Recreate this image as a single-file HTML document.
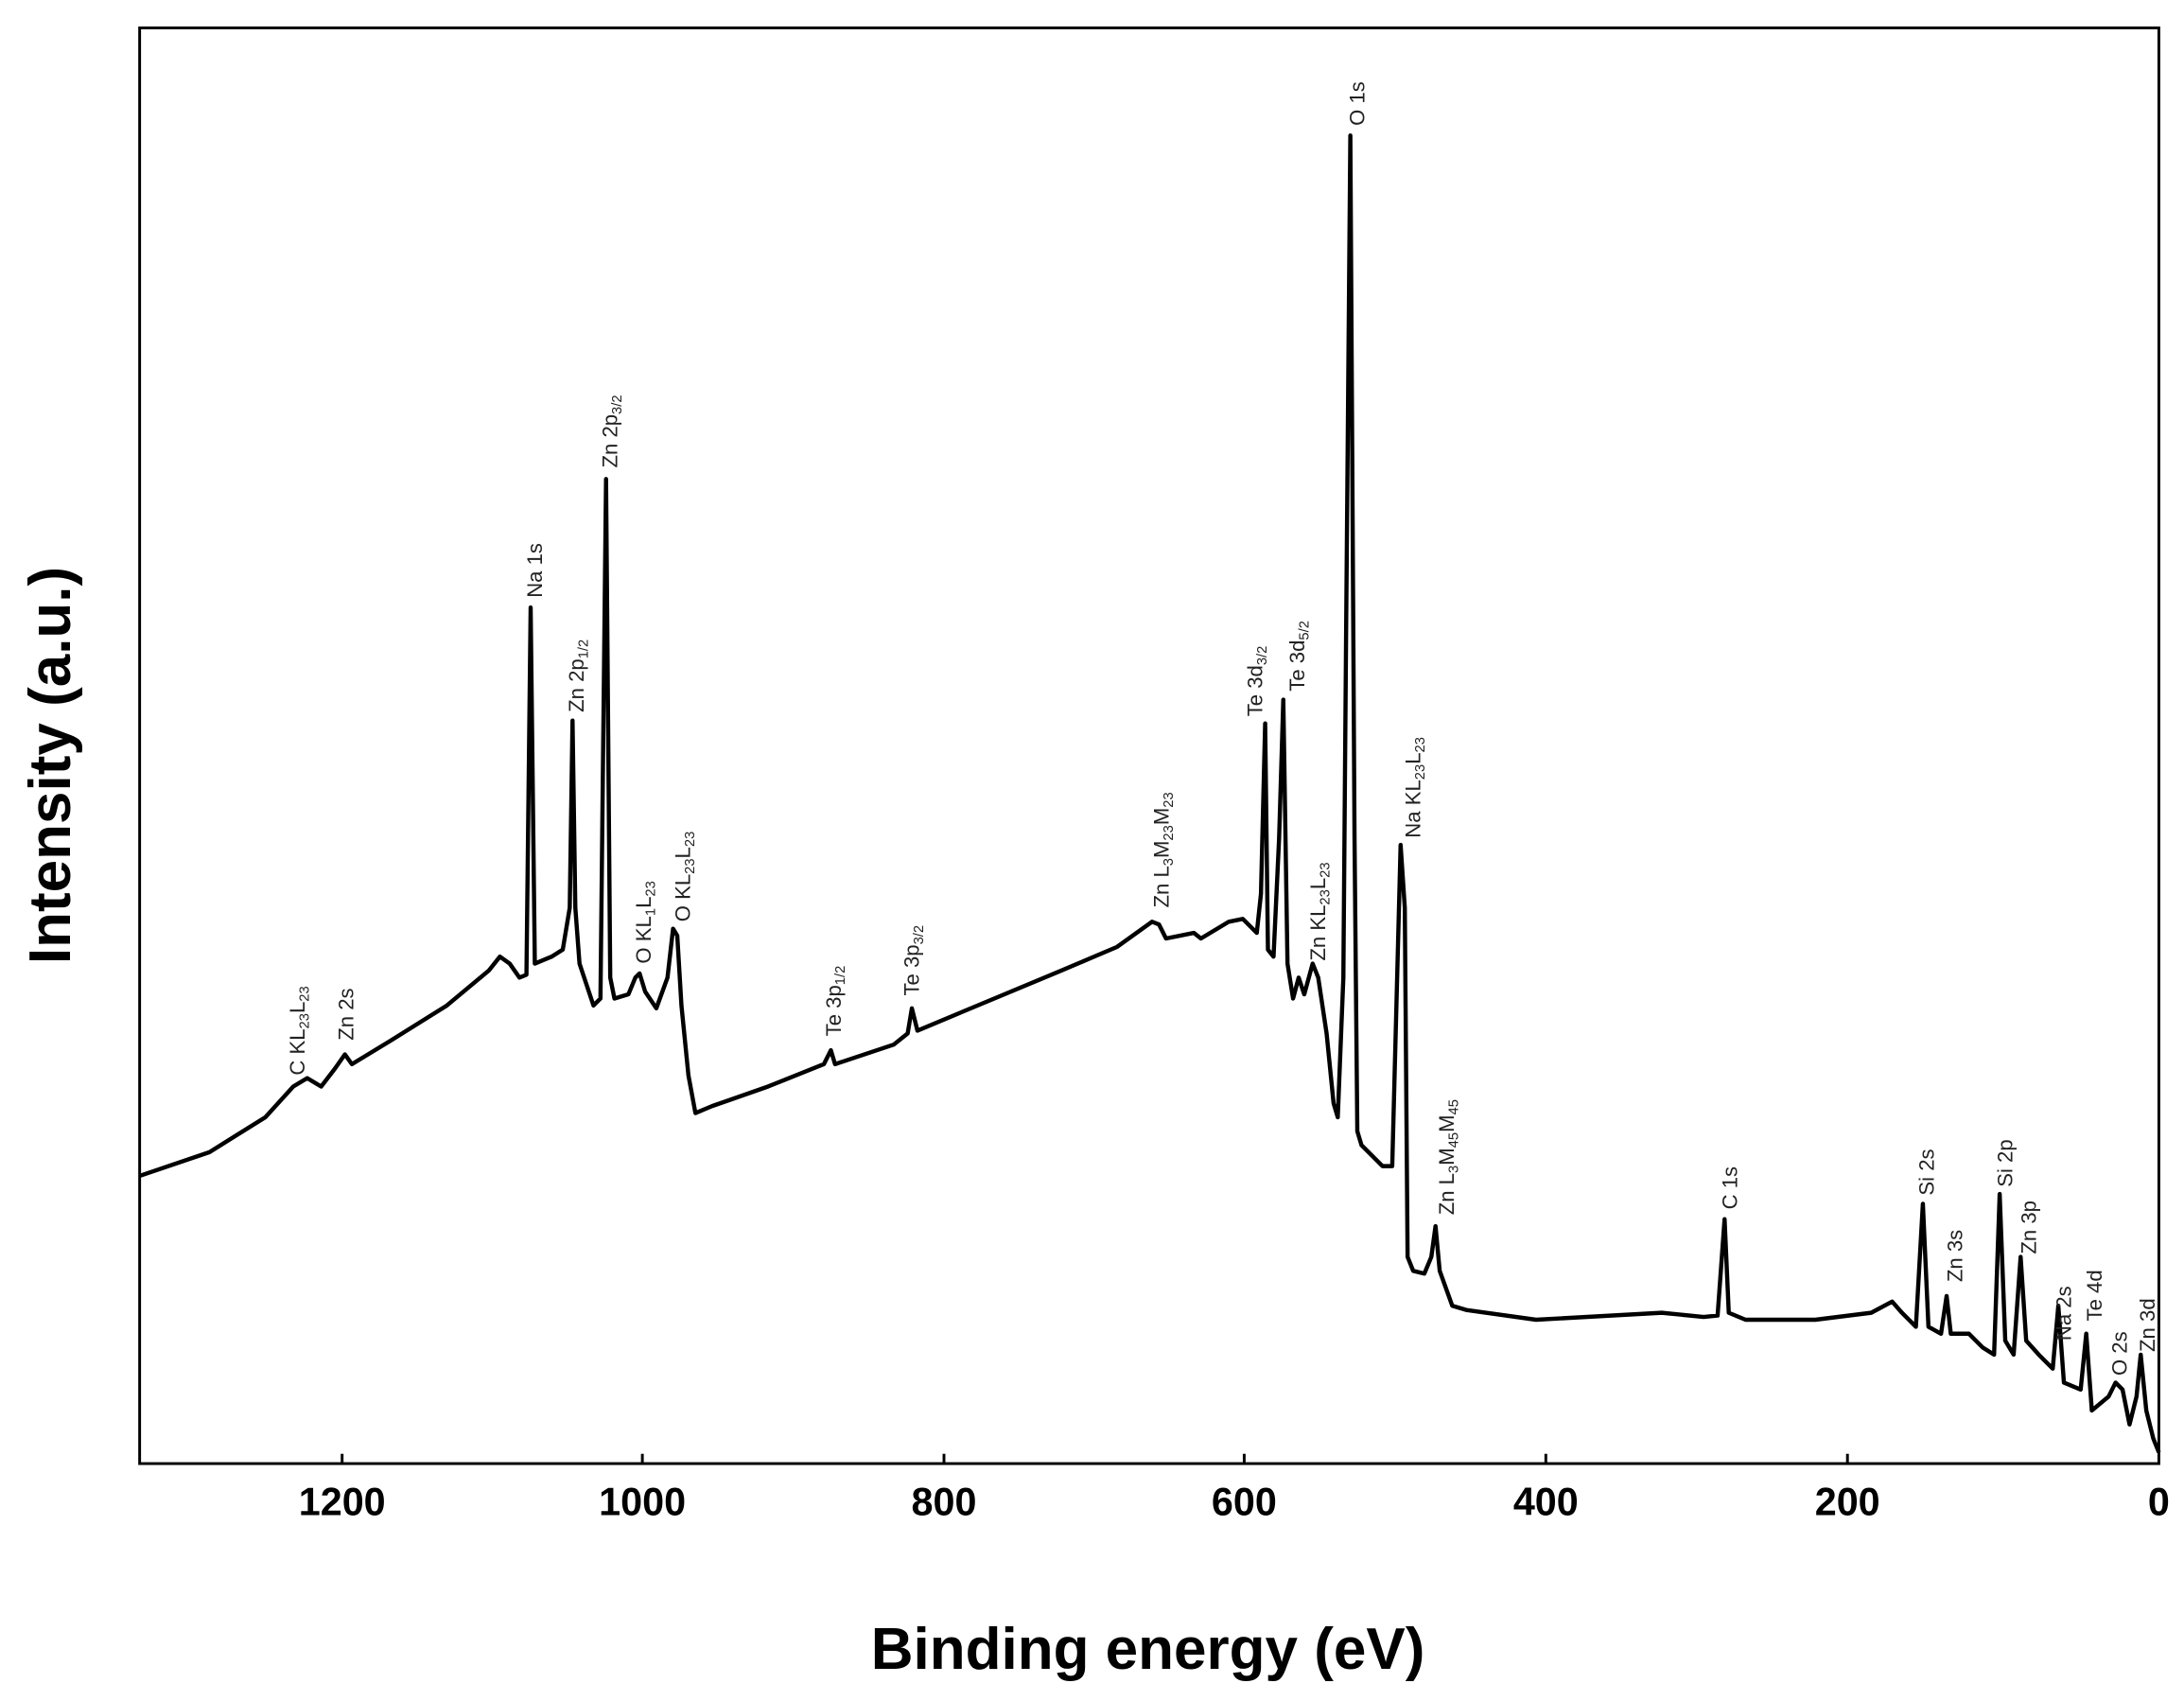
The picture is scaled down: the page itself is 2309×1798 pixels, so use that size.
<!DOCTYPE html>
<html><head><meta charset="utf-8"><style>
html,body{margin:0;padding:0;background:#fff;}
svg{display:block;}
.l{font-family:"Liberation Sans",sans-serif;font-size:15px;fill:#222;}
.t{font-family:"Liberation Sans",sans-serif;font-weight:bold;font-size:28px;fill:#000;}
.a{font-family:"Liberation Sans",sans-serif;font-weight:bold;font-size:42px;fill:#000;}
</style></head><body>
<svg width="2309" height="1798" viewBox="0 0 1564 1218" preserveAspectRatio="none" xmlns="http://www.w3.org/2000/svg">
<rect x="100" y="20" width="1446" height="1028" fill="none" stroke="#000" stroke-width="2"/>
<g stroke="#000" stroke-width="2">
<line x1="245" y1="1048" x2="245" y2="1041"/><line x1="460" y1="1048" x2="460" y2="1041"/><line x1="676" y1="1048" x2="676" y2="1041"/><line x1="891" y1="1048" x2="891" y2="1041"/><line x1="1107" y1="1048" x2="1107" y2="1041"/><line x1="1323" y1="1048" x2="1323" y2="1041"/>
</g>
<g class="t" text-anchor="middle">
<text x="245" y="1085">1200</text><text x="460" y="1085">1000</text><text x="676" y="1085">800</text><text x="891" y="1085">600</text><text x="1107" y="1085">400</text><text x="1323" y="1085">200</text><text x="1546" y="1085">0</text>
</g>
<text class="a" x="822" y="1195" text-anchor="middle">Binding energy (eV)</text>
<text class="a" transform="translate(50,548) rotate(-90)" text-anchor="middle">Intensity (a.u.)</text>
<path fill="none" stroke="#000" stroke-width="3" stroke-linejoin="round" d="M100,842 L150,825 L190,800 L210,778 L220,772 L230,778 L240,765 L247,755 L252,762 L280,745 L320,720 L350,695 L358,685 L365,690 L372,700 L377,698 L380,435 L383,690 L395,685 L403,680 L408,650 L410,516 L412,650 L415,690 L425,720 L430,715 L434,343 L437,700 L440,715 L450,712 L455,700 L458,697 L462,710 L470,722 L478,700 L482,665 L485,670 L488,720 L493,770 L498,797 L510,792 L550,778 L590,762 L595,752 L598,762 L640,748 L650,740 L653,722 L657,738 L700,720 L760,695 L800,678 L825,660 L830,662 L835,672 L845,670 L855,668 L860,672 L880,660 L890,658 L900,668 L903,640 L906,518 L908,680 L912,685 L916,600 L919,501 L922,690 L926,715 L930,700 L934,712 L940,690 L944,700 L950,740 L955,790 L958,800 L962,700 L964,450 L967,97 L970,600 L972,810 L975,820 L980,825 L990,835 L997,835 L1000,720 L1003,605 L1006,650 L1008,900 L1012,910 L1020,912 L1025,900 L1028,878 L1031,910 L1040,935 L1050,938 L1100,945 L1190,940 L1220,943 L1230,942 L1235,873 L1238,940 L1250,945 L1300,945 L1340,940 L1355,932 L1362,940 L1372,950 L1377,862 L1381,950 L1390,955 L1394,928 L1397,955 L1410,955 L1420,965 L1428,970 L1432,855 L1436,960 L1442,970 L1447,900 L1451,960 L1460,970 L1470,980 L1474,935 L1478,990 L1490,995 L1494,955 L1498,1010 L1510,1000 L1515,990 L1520,995 L1525,1020 L1530,1000 L1533,970 L1537,1010 L1542,1030 L1546,1040"/>
<g class="l">
<text transform="translate(218,770) rotate(-90)">C KL<tspan font-size="10" dy="3">23</tspan><tspan dy="-3">L</tspan><tspan font-size="10" dy="3">23</tspan></text>
<text transform="translate(253,745) rotate(-90)">Zn 2s</text>
<text transform="translate(388,428) rotate(-90)">Na 1s</text>
<text transform="translate(418,510) rotate(-90)">Zn 2p<tspan font-size="10" dy="3">1/2</tspan></text>
<text transform="translate(442,335) rotate(-90)">Zn 2p<tspan font-size="10" dy="3">3/2</tspan></text>
<text transform="translate(466,690) rotate(-90)">O KL<tspan font-size="10" dy="3">1</tspan><tspan dy="-3">L</tspan><tspan font-size="10" dy="3">23</tspan></text>
<text transform="translate(494,660) rotate(-90)">O KL<tspan font-size="10" dy="3">23</tspan><tspan dy="-3">L</tspan><tspan font-size="10" dy="3">23</tspan></text>
<text transform="translate(602,742) rotate(-90)">Te 3p<tspan font-size="10" dy="3">1/2</tspan></text>
<text transform="translate(658,713) rotate(-90)">Te 3p<tspan font-size="10" dy="3">3/2</tspan></text>
<text transform="translate(837,650) rotate(-90)">Zn L<tspan font-size="10" dy="3">3</tspan><tspan dy="-3">M</tspan><tspan font-size="10" dy="3">23</tspan><tspan dy="-3">M</tspan><tspan font-size="10" dy="3">23</tspan></text>
<text transform="translate(904,513) rotate(-90)">Te 3d<tspan font-size="10" dy="3">3/2</tspan></text>
<text transform="translate(934,495) rotate(-90)">Te 3d<tspan font-size="10" dy="3">5/2</tspan></text>
<text transform="translate(949,688) rotate(-90)">Zn KL<tspan font-size="10" dy="3">23</tspan><tspan dy="-3">L</tspan><tspan font-size="10" dy="3">23</tspan></text>
<text transform="translate(977,90) rotate(-90)">O 1s</text>
<text transform="translate(1017,600) rotate(-90)">Na KL<tspan font-size="10" dy="3">23</tspan><tspan dy="-3">L</tspan><tspan font-size="10" dy="3">23</tspan></text>
<text transform="translate(1041,870) rotate(-90)">Zn L<tspan font-size="10" dy="3">3</tspan><tspan dy="-3">M</tspan><tspan font-size="10" dy="3">45</tspan><tspan dy="-3">M</tspan><tspan font-size="10" dy="3">45</tspan></text>
<text transform="translate(1244,866) rotate(-90)">C 1s</text>
<text transform="translate(1385,856) rotate(-90)">Si 2s</text>
<text transform="translate(1405,918) rotate(-90)">Zn 3s</text>
<text transform="translate(1441,850) rotate(-90)">Si 2p</text>
<text transform="translate(1458,898) rotate(-90)">Zn 3p</text>
<text transform="translate(1483,960) rotate(-90)">Na 2s</text>
<text transform="translate(1505,946) rotate(-90)">Te 4d</text>
<text transform="translate(1523,985) rotate(-90)">O 2s</text>
<text transform="translate(1543,968) rotate(-90)">Zn 3d</text>
</g>
</svg>
</body></html>
